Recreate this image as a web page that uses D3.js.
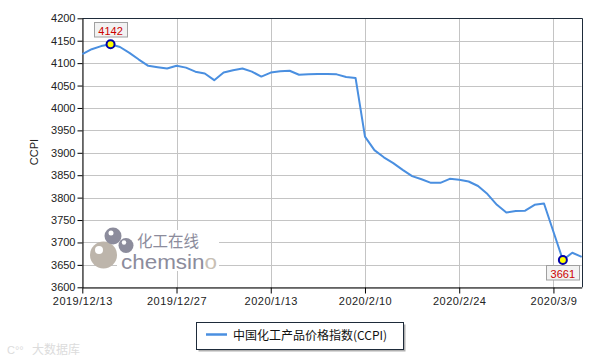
<!DOCTYPE html>
<html><head><meta charset="utf-8">
<script src="https://cdn.jsdelivr.net/npm/d3@7/dist/d3.min.js"></script>
<style>
html,body{margin:0;padding:0;background:#fff;}
svg{display:block;font-family:"Liberation Sans",Arial,sans-serif;}
</style></head>
<body><svg id="c" width="600" height="360"></svg>
<script>
const dates = ["2019/12/13","2019/12/16","2019/12/17","2019/12/18","2019/12/19","2019/12/20","2019/12/23","2019/12/24","2019/12/25","2019/12/26",
"2019/12/27","2019/12/30","2019/12/31","2020/1/2","2020/1/3","2020/1/6","2020/1/7","2020/1/8","2020/1/9","2020/1/10",
"2020/1/13","2020/1/14","2020/1/15","2020/1/16","2020/1/17","2020/1/19","2020/1/20","2020/1/21","2020/1/22","2020/1/23",
"2020/2/10","2020/2/11","2020/2/12","2020/2/13","2020/2/14","2020/2/17","2020/2/18","2020/2/19","2020/2/20","2020/2/21",
"2020/2/24","2020/2/25","2020/2/26","2020/2/27","2020/2/28","2020/3/2","2020/3/3","2020/3/4","2020/3/5","2020/3/6",
"2020/3/9","2020/3/10","2020/3/11","2020/3/12"];
const ccpi = [4120,4131,4138,4142,4136,4123,4108,4094,4091,4088,
4094,4090,4081,4077,4062,4079,4084,4088,4081,4070,
4079,4082,4083,4074,4075,4076,4076,4075,4069,4067,
3936,3906,3890,3877,3862,3848,3841,3833,3833,3842,
3840,3836,3826,3808,3784,3767,3770,3771,3784,3787,
3724,3661,3677,3668];
const xTickLabels = ["2019/12/13","2019/12/27","2020/1/13","2020/2/10","2020/2/24","2020/3/9"];
const yTicks = [3600,3650,3700,3750,3800,3850,3900,3950,4000,4050,4100,4150,4200];
const seriesName = "中国化工产品价格指数(CCPI)";
const yTitle = "CCPI";

const svg = d3.select("#c");
const L = 82.3, R = 581.7, T = 18.3, B = 287.3;
const x = d3.scalePoint().domain(dates).range([L, R]);
const y = d3.scaleLinear().domain([3600, 4200]).range([B, T]);
const snap = v => Math.round(v) + 0.5;

// grid
const grid = svg.append("g");
yTicks.forEach(v => {
  grid.append("line").attr("x1", L).attr("x2", R).attr("y1", snap(y(v))).attr("y2", snap(y(v)))
    .attr("stroke", "#c4c4c4").attr("stroke-width", 1);
});
xTickLabels.forEach(d => {
  grid.append("line").attr("x1", snap(x(d))).attr("x2", snap(x(d))).attr("y1", T).attr("y2", B)
    .attr("stroke", "#c4c4c4").attr("stroke-width", 1);
});

// watermark
const wm = svg.append("g");
wm.append("rect").attr("x", 117).attr("y", 230).attr("width", 102).attr("height", 41).attr("fill", "#fff");
wm.append("circle").attr("cx", 103.5).attr("cy", 255).attr("r", 13.5).attr("fill", "#bdb5ab");
wm.append("circle").attr("cx", 99).attr("cy", 250).attr("r", 4).attr("fill", "#fff");
wm.append("circle").attr("cx", 113).attr("cy", 236).attr("r", 8.5).attr("fill", "#8c8c9c");
wm.append("circle").attr("cx", 111).attr("cy", 233).attr("r", 2.5).attr("fill", "#fff");
wm.append("circle").attr("cx", 126).attr("cy", 245.5).attr("r", 7.5).attr("fill", "#8c8c9c");
wm.append("circle").attr("cx", 124).attr("cy", 242.5).attr("r", 2.2).attr("fill", "#fff");
wm.append("text").attr("x", 137).attr("y", 246.5).attr("font-size", 16)
  .attr("font-family", "'Noto Sans CJK SC',sans-serif").attr("fill", "#8c8c9c")
  .attr("textLength", 62).attr("lengthAdjust", "spacingAndGlyphs").text("化工在线");
const cw = wm.append("text").attr("x", 121).attr("y", 268.5).attr("font-size", 19.5)
  .attr("fill", "#8c8c9c").attr("textLength", 96).attr("lengthAdjust", "spacingAndGlyphs");
cw.append("tspan").text("chemsin");
cw.append("tspan").attr("fill", "#c8c0b4").text("o");

// frame top/right
svg.append("line").attr("x1", L).attr("x2", R + 0.5).attr("y1", snap(T)).attr("y2", snap(T)).attr("stroke", "#1e2b3a");
svg.append("line").attr("x1", snap(R)).attr("x2", snap(R)).attr("y1", T).attr("y2", B).attr("stroke", "#1e2b3a");

// axes
const yAxis = svg.append("g").attr("transform", `translate(${snap(L)},0)`)
  .call(d3.axisLeft(y).tickValues(yTicks).tickFormat(d3.format("d")).tickSize(5).tickPadding(2).tickSizeOuter(0));
const xAxis = svg.append("g").attr("transform", `translate(0,${snap(B)})`)
  .call(d3.axisBottom(x).tickValues(xTickLabels).tickSize(6).tickPadding(4).tickSizeOuter(0));
[yAxis, xAxis].forEach(a => {
  a.select(".domain").attr("stroke", "#000");
  a.selectAll(".tick line").attr("stroke", "#000");
  a.selectAll("text").attr("font-size", 11).attr("fill", "#222").attr("font-family", "'Liberation Sans',Arial,sans-serif");
});
xAxis.selectAll("text").attr("letter-spacing", 0.5);

svg.append("text").attr("transform", "translate(38,152) rotate(-90)").attr("text-anchor", "middle")
  .attr("font-size", 11).attr("fill", "#222").text(yTitle);

// line
const line = d3.line().x((d, i) => x(dates[i])).y(d => y(d));
svg.append("path").datum(ccpi).attr("d", line).attr("fill", "none")
  .attr("stroke", "#4a8fe0").attr("stroke-width", 2).attr("stroke-linejoin", "round");

// max / min markers
const iMax = d3.maxIndex(ccpi), iMin = d3.minIndex(ccpi);
[[iMax, -1], [iMin, 1]].forEach(([i, dir]) => {
  const cx = x(dates[i]), cy = y(ccpi[i]);
  const bw = 33, bh = 14.5;
  const by = dir < 0 ? cy - 22 : cy + 5.5;
  svg.append("rect").attr("x", Math.round(cx - bw / 2) + 0.5).attr("y", Math.round(by) + 0.5)
    .attr("width", bw).attr("height", bh).attr("fill", "#f2f2f2").attr("stroke", "#a0a0a0");
  svg.append("text").attr("x", cx).attr("y", by + 12.5).attr("text-anchor", "middle")
    .attr("font-size", 11).attr("fill", "#cc0000").text(ccpi[i]);
  svg.append("circle").attr("cx", cx).attr("cy", cy).attr("r", 4)
    .attr("fill", "#ffff00").attr("stroke", "#0000a8").attr("stroke-width", 2);
});

// legend
const lg = svg.append("g");
lg.append("rect").attr("x", 198.5).attr("y", 324.5).attr("width", 207).attr("height", 27).attr("fill", "#b0b0b0");
lg.append("rect").attr("x", 196.5).attr("y", 322.5).attr("width", 207).attr("height", 27).attr("fill", "#fff").attr("stroke", "#1e2b3a");
lg.append("line").attr("x1", 206).attr("x2", 227).attr("y1", 334.5).attr("y2", 334.5).attr("stroke", "#4a8fe0").attr("stroke-width", 2.5);
lg.append("text").attr("x", 233).attr("y", 339.5).attr("font-size", 12)
  .attr("font-family", "'Noto Sans CJK SC',sans-serif").attr("fill", "#111").text(seriesName);

// bottom-left faint watermark
svg.append("text").attr("x", 7).attr("y", 354).attr("font-size", 11).attr("fill", "#dcdcdc").text("C°°");
svg.append("text").attr("x", 32).attr("y", 354).attr("font-size", 12)
  .attr("font-family", "'Noto Sans CJK SC',sans-serif").attr("fill", "#dcdcdc").text("大数据库");
</script></body></html>
